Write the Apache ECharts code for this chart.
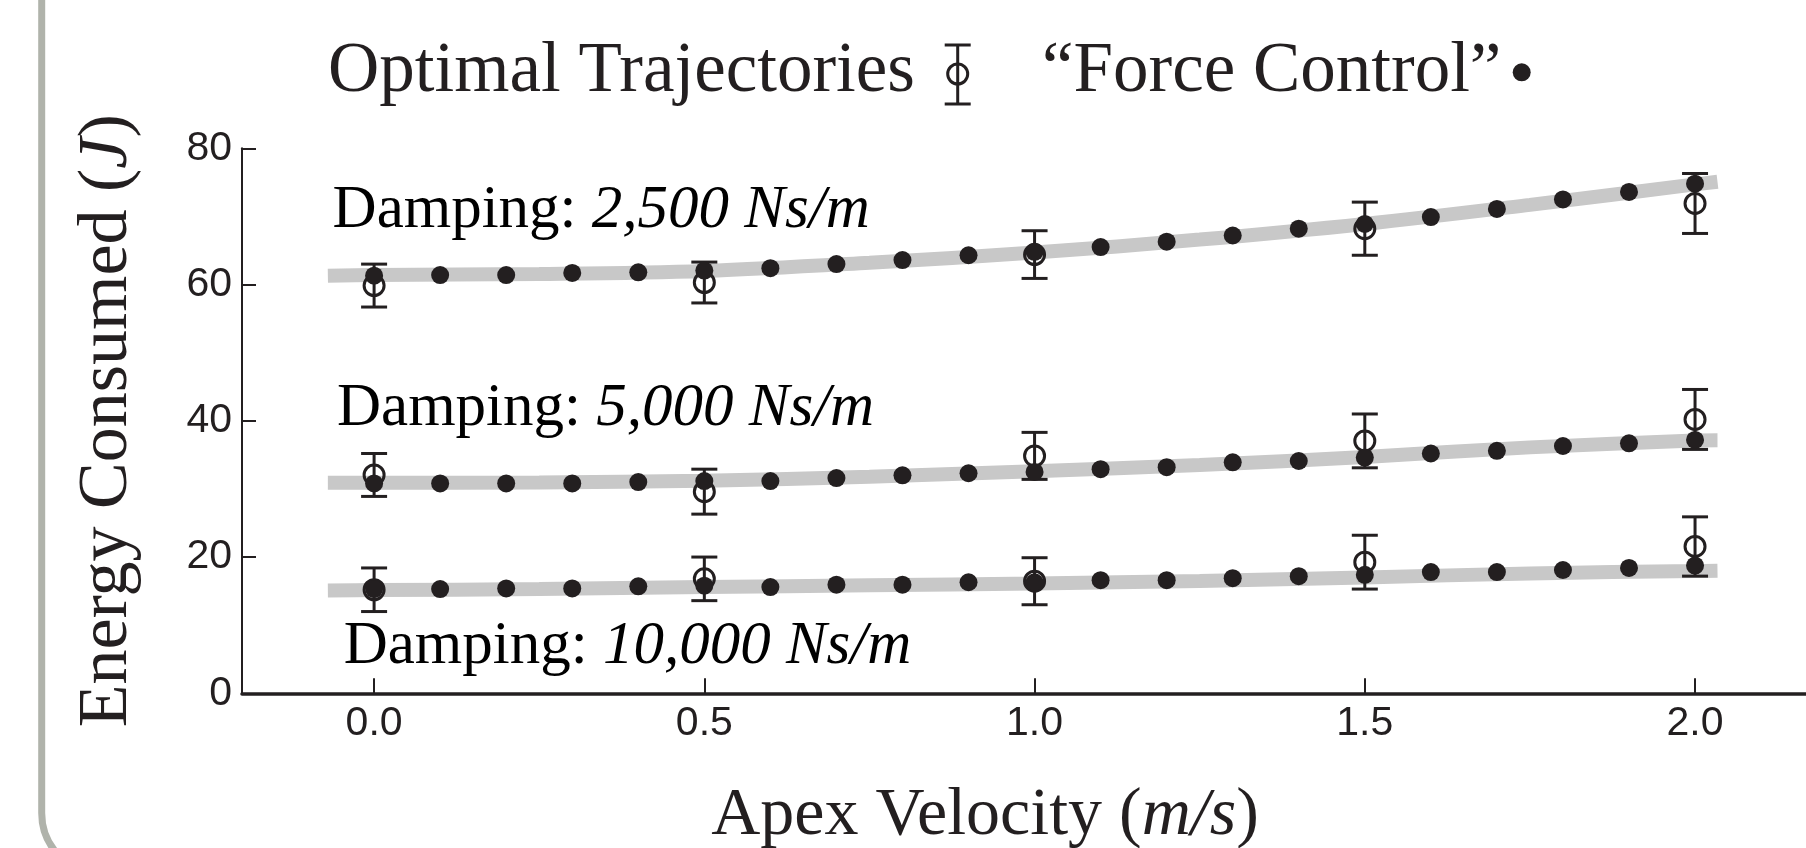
<!DOCTYPE html>
<html>
<head>
<meta charset="utf-8">
<script src="https://cdn.jsdelivr.net/npm/echarts@6/dist/echarts.min.js"></script>
<style>
html,body{margin:0;padding:0;background:#fff;}
#chart{width:1806px;height:848px;}
</style>
</head>
<body>
<div id="chart"></div>
<script>
// ---------- data ----------
const xForce = [0, 0.1, 0.2, 0.3, 0.4, 0.5, 0.6, 0.7, 0.8, 0.9, 1.0, 1.1, 1.2, 1.3, 1.4, 1.5, 1.6, 1.7, 1.8, 1.9, 2.0];
const force2500 = [61.3, 61.4, 61.4, 61.7, 61.8, 62.05, 62.4, 63.0, 63.6, 64.3, 64.8, 65.5, 66.3, 67.2, 68.2, 68.9, 69.9, 71.1, 72.5, 73.6, 74.8];
const force5000 = [30.8, 30.8, 30.8, 30.8, 31.0, 31.15, 31.15, 31.6, 32.0, 32.3, 32.5, 32.9, 33.2, 33.9, 34.1, 34.6, 35.2, 35.6, 36.3, 36.7, 37.2];
const force10000 = [15.3, 15.3, 15.4, 15.4, 15.7, 15.8, 15.6, 15.95, 15.95, 16.3, 16.3, 16.6, 16.6, 16.9, 17.2, 17.4, 17.8, 17.8, 18.1, 18.4, 18.75];

const xOpt = [0, 0.5, 1.0, 1.5, 2.0];
const opt2500 = [59.85, 60.3, 64.4, 68.2, 71.9];
const err2500 = [3.15, 3.0, 3.5, 3.9, 4.4];
const opt5000 = [32.05, 29.6, 34.85, 37.05, 40.2];
const err5000 = [3.15, 3.3, 3.45, 3.95, 4.4];
const opt10000 = [15.2, 16.8, 16.45, 19.25, 21.55];
const err10000 = [3.2, 3.2, 3.45, 3.95, 4.35];

const bandX = [-0.07, 0, 0.25, 0.5, 0.75, 1.0, 1.25, 1.5, 1.75, 2.0, 2.034];
const band2500 = [61.3, 61.4, 61.55, 62.0, 63.2, 64.7, 66.6, 68.9, 71.7, 74.7, 75.1];
const band5000 = [30.9, 30.9, 30.95, 31.2, 31.8, 32.6, 33.5, 34.7, 36.1, 37.1, 37.15];
const band10000 = [15.1, 15.15, 15.3, 15.6, 15.85, 16.1, 16.5, 17.0, 17.6, 17.95, 18.0];

const xTicks = [0, 0.5, 1.0, 1.5, 2.0];
const yTicks = [0, 20, 40, 60, 80];

const legendOpt = 'Optimal Trajectories';
const legendForce = '\u201CForce Control\u201D';
const dampingLabels = ['2,500 Ns/m', '5,000 Ns/m', '10,000 Ns/m'];

// ---------- helpers ----------
const INK = '#231f20';
const SERIF = '"Liberation Serif", "Times New Roman", serif';
const SANS = '"Liberation Sans", Arial, sans-serif';
const zip = (xs, ys) => xs.map((x, i) => [x, ys[i]]);
const zip3 = (xs, ys, es) => xs.map((x, i) => [x, ys[i], es[i]]);

function bandSeries(vals) {
  return {
    type: 'line', data: zip(bandX, vals), smooth: 0.35, showSymbol: false, silent: true, z: 1,
    lineStyle: { color: '#c8c8c8', width: 14, cap: 'butt' }
  };
}
function errSeries(means, errs) {
  return {
    type: 'custom', z: 2, silent: true,
    data: zip3(xOpt, means, errs),
    renderItem: function (params, api) {
      const x = api.value(0), m = api.value(1), e = api.value(2);
      const t = api.coord([x, m + e]);
      const b = api.coord([x, m - e]);
      const c = api.coord([x, m]);
      const hw = 13, r = 10;
      const st = { stroke: INK, lineWidth: 3, fill: null };
      return {
        type: 'group',
        children: [
          { type: 'line', shape: { x1: t[0], y1: t[1], x2: b[0], y2: b[1] }, style: st },
          { type: 'line', shape: { x1: t[0] - hw, y1: t[1], x2: t[0] + hw, y2: t[1] }, style: st },
          { type: 'line', shape: { x1: b[0] - hw, y1: b[1], x2: b[0] + hw, y2: b[1] }, style: st },
          { type: 'circle', shape: { cx: c[0], cy: c[1], r: r }, style: { stroke: INK, lineWidth: 3, fill: 'rgba(0,0,0,0)' } }
        ]
      };
    }
  };
}
function dotSeries(vals) {
  return {
    type: 'scatter', z: 3, silent: true, data: zip(xForce, vals),
    symbol: 'circle', symbolSize: 18, itemStyle: { color: INK, opacity: 1 }
  };
}

const chart = echarts.init(document.getElementById('chart'), null, { renderer: 'canvas' });

const dampRich = {
  n: { fontFamily: SERIF, fontSize: 61, color: INK },
  i: { fontFamily: SERIF, fontSize: 61, fontStyle: 'italic', color: INK }
};

chart.setOption({
  animation: false,
  backgroundColor: '#ffffff',
  grid: { left: 242, right: 0, top: 148.3, bottom: 154.7, outerBoundsMode: 'none', containLabel: false },
  xAxis: {
    type: 'value', min: -0.2, max: 2.168,
    axisLine: { show: true, onZero: false, lineStyle: { color: INK, width: 3.5 } },
    axisTick: { show: true, inside: true, length: 15, customValues: xTicks, lineStyle: { color: INK, width: 2 } },
    axisLabel: { show: true, customValues: xTicks, margin: 10, fontFamily: SANS, fontSize: 41, color: INK,
      formatter: v => Number(v).toFixed(1) },
    splitLine: { show: false },
    name: '{n|Apex Velocity (}{i|m/s}{n|)}',
    nameLocation: 'middle', nameGap: 89,
    nameTextStyle: {
      padding: [0, 78, 0, 0],
      rich: {
        n: { fontFamily: SERIF, fontSize: 68, color: INK },
        i: { fontFamily: SERIF, fontSize: 68, fontStyle: 'italic', color: INK }
      }
    }
  },
  yAxis: {
    type: 'value', min: 0, max: 80, interval: 20,
    axisLine: { show: true, onZero: false, lineStyle: { color: INK, width: 2 } },
    axisTick: { show: true, inside: true, length: 14, lineStyle: { color: INK, width: 2 } },
    axisLabel: { show: true, margin: 10, fontFamily: SANS, fontSize: 41, color: INK },
    splitLine: { show: false },
    name: '{n|Energy Consumed (}{i|J}{n|)}',
    nameLocation: 'middle', nameGap: 99,
    nameTextStyle: {
      rich: {
        n: { fontFamily: SERIF, fontSize: 70, color: INK },
        i: { fontFamily: SERIF, fontSize: 70, fontStyle: 'italic', color: INK }
      }
    }
  },
  series: [
    bandSeries(band2500), bandSeries(band5000), bandSeries(band10000),
    errSeries(opt2500, err2500), errSeries(opt5000, err5000), errSeries(opt10000, err10000),
    dotSeries(force2500), dotSeries(force5000), dotSeries(force10000)
  ],
  graphic: [
    { type: 'rect', z: -10, silent: true,
      shape: { x: 41.7, y: -300, width: 3000, height: 1174, r: 61 },
      style: { fill: null, stroke: '#b0b3ab', lineWidth: 7 } },
    // legend
    { type: 'text', x: 328, y: 72, silent: true,
      style: { text: legendOpt, font: '71px ' + SERIF, fill: INK, verticalAlign: 'middle', align: 'left' } },
    { type: 'group', silent: true, children: [
      { type: 'line', shape: { x1: 957.7, y1: 45, x2: 957.7, y2: 104 }, style: { stroke: INK, lineWidth: 3 } },
      { type: 'line', shape: { x1: 944.7, y1: 45, x2: 970.7, y2: 45 }, style: { stroke: INK, lineWidth: 3 } },
      { type: 'line', shape: { x1: 944.7, y1: 104, x2: 970.7, y2: 104 }, style: { stroke: INK, lineWidth: 3 } },
      { type: 'circle', shape: { cx: 957.7, cy: 74, r: 10 }, style: { stroke: INK, lineWidth: 3, fill: 'rgba(0,0,0,0)' } }
    ] },
    { type: 'text', x: 1042, y: 72, silent: true,
      style: { text: legendForce, font: '71px ' + SERIF, fill: INK, verticalAlign: 'middle', align: 'left' } },
    { type: 'circle', silent: true, shape: { cx: 1521.7, cy: 72.3, r: 9 }, style: { fill: INK } },
    // damping annotations
    { type: 'text', x: 332.6, y: 210.5, silent: true,
      style: { text: '{n|Damping: }{i|' + dampingLabels[0] + '}', rich: dampRich, verticalAlign: 'middle', align: 'left' } },
    { type: 'text', x: 337, y: 409, silent: true,
      style: { text: '{n|Damping: }{i|' + dampingLabels[1] + '}', rich: dampRich, verticalAlign: 'middle', align: 'left' } },
    { type: 'text', x: 343.7, y: 646.5, silent: true,
      style: { text: '{n|Damping: }{i|' + dampingLabels[2] + '}', rich: dampRich, verticalAlign: 'middle', align: 'left' } }
  ]
});
</script>
</body>
</html>
